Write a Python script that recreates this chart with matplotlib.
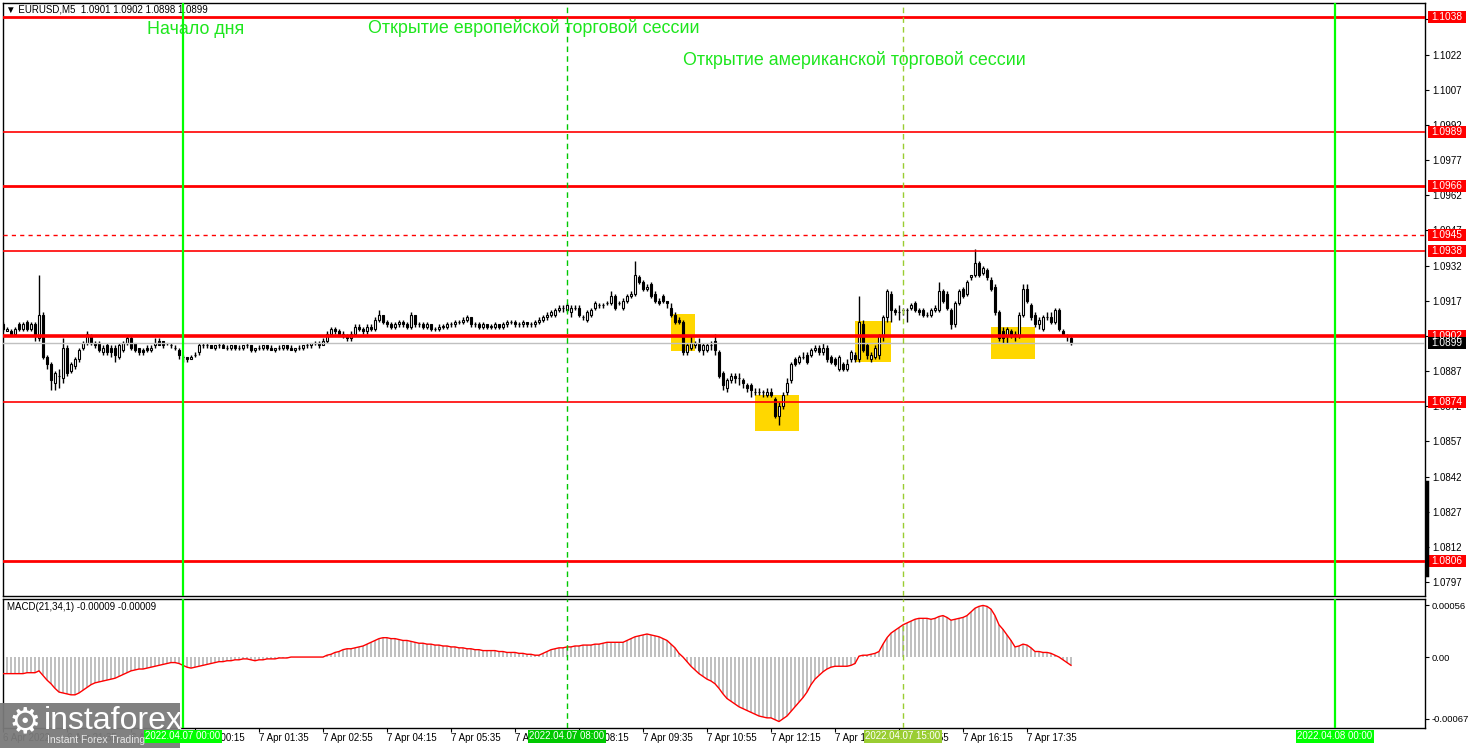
import numpy as np
import pandas as pd
import matplotlib
matplotlib.use("Agg")
import matplotlib.pyplot as plt
import matplotlib.transforms as mtrans
from matplotlib.patches import Rectangle
from matplotlib.lines import Line2D

plt.rcParams['font.family'] = ['Liberation Sans', 'DejaVu Sans']

# EURUSD M5, first bar 6 Apr 20:15, one value per bar
start_time = "2022-04-06 20:15"
day_start = "2022-04-07 00:00"

opens = [
    1.0907, 1.0904, 1.0904, 1.0903, 1.0907, 1.0905, 1.0908, 1.0905, 1.0907, 1.0901,
    1.0911, 1.0893, 1.0890, 1.0882, 1.0885, 1.0884, 1.0897, 1.0887, 1.0889, 1.0892,
    1.0897, 1.0899, 1.0902, 1.0899, 1.0899, 1.0895, 1.0898, 1.0897, 1.0897, 1.0893,
    1.0896, 1.0899, 1.0901, 1.0899, 1.0897, 1.0896, 1.0897, 1.0896, 1.0898, 1.0900,
    1.0900, 1.0899, 1.0898, 1.0897, 1.0896, 1.0893, 1.0893, 1.0892, 1.0894, 1.0895,
    1.0898, 1.0898, 1.0898, 1.0897, 1.0898, 1.0898, 1.0897, 1.0897, 1.0898, 1.0897,
    1.0897, 1.0898, 1.0898, 1.0896, 1.0897, 1.0897, 1.0898, 1.0897, 1.0896, 1.0897,
    1.0897, 1.0898, 1.0897, 1.0896, 1.0897, 1.0897, 1.0898, 1.0898, 1.0899, 1.0899,
    1.0898, 1.0900, 1.0903, 1.0905, 1.0904, 1.0903, 1.0902, 1.0901, 1.0903, 1.0906,
    1.0905, 1.0904, 1.0906, 1.0905, 1.0909, 1.0911, 1.0908, 1.0907, 1.0906, 1.0907,
    1.0908, 1.0907, 1.0906, 1.0911, 1.0907, 1.0907, 1.0906, 1.0907, 1.0905, 1.0905,
    1.0906, 1.0906, 1.0907, 1.0907, 1.0908, 1.0908, 1.0909, 1.0910, 1.0907, 1.0907,
    1.0906, 1.0907, 1.0906, 1.0906, 1.0907, 1.0906, 1.0907, 1.0908, 1.0908, 1.0907,
    1.0907, 1.0908, 1.0907, 1.0907, 1.0908, 1.0909, 1.0910, 1.0911, 1.0911, 1.0913,
    1.0914, 1.0913, 1.0912, 1.0914, 1.0914, 1.0910, 1.0909, 1.0911, 1.0914, 1.0915,
    1.0915, 1.0916, 1.0916, 1.0919, 1.0916, 1.0914, 1.0917, 1.0919, 1.0920, 1.0927,
    1.0925, 1.0922, 1.0924, 1.0920, 1.0917, 1.0919, 1.0917, 1.0914, 1.0911, 1.0909,
    1.0908, 1.0895, 1.0897, 1.0898, 1.0899, 1.0896, 1.0896, 1.0898, 1.0900, 1.0895,
    1.0886, 1.0880, 1.0883, 1.0885, 1.0884, 1.0883, 1.0881, 1.0881, 1.0878, 1.0878,
    1.0878, 1.0877, 1.0878, 1.0875, 1.0868, 1.0872, 1.0878, 1.0883, 1.0892, 1.0891,
    1.0893, 1.0894, 1.0894, 1.0896, 1.0897, 1.0895, 1.0897, 1.0893, 1.0892, 1.0888,
    1.0890, 1.0888, 1.0892, 1.0894, 1.0892, 1.0907, 1.0898, 1.0892, 1.0893, 1.0894,
    1.0902, 1.0910, 1.0920, 1.0913, 1.0912, 1.0913, 1.0913, 1.0914, 1.0916, 1.0913,
    1.0913, 1.0911, 1.0911, 1.0913, 1.0913, 1.0921, 1.0920, 1.0913, 1.0907, 1.0916,
    1.0922, 1.0920, 1.0927, 1.0928, 1.0933, 1.0929, 1.0930, 1.0926, 1.0923, 1.0912,
    1.0904, 1.0902, 1.0904, 1.0903, 1.0902, 1.0911, 1.0922, 1.0915, 1.0911, 1.0907,
    1.0905, 1.0910, 1.0910, 1.0908, 1.0913, 1.0904, 1.0902, 1.0901,
]
highs = [
    1.0908, 1.0906, 1.0905, 1.0906, 1.0908, 1.0908, 1.0909, 1.0908, 1.0908, 1.0928,
    1.0912, 1.0894, 1.0891, 1.0887, 1.0888, 1.0901, 1.0898, 1.0891, 1.0893, 1.0897,
    1.0900, 1.0904, 1.0903, 1.0900, 1.0900, 1.0898, 1.0899, 1.0898, 1.0898, 1.0899,
    1.0900, 1.0902, 1.0902, 1.0899, 1.0897, 1.0897, 1.0898, 1.0898, 1.0901, 1.0901,
    1.0900, 1.0899, 1.0899, 1.0898, 1.0897, 1.0894, 1.0893, 1.0894, 1.0895, 1.0899,
    1.0899, 1.0899, 1.0898, 1.0898, 1.0899, 1.0899, 1.0898, 1.0898, 1.0898, 1.0898,
    1.0898, 1.0899, 1.0898, 1.0897, 1.0898, 1.0898, 1.0898, 1.0898, 1.0897, 1.0898,
    1.0898, 1.0898, 1.0898, 1.0897, 1.0898, 1.0898, 1.0899, 1.0899, 1.0900, 1.0900,
    1.0901, 1.0904, 1.0906, 1.0906, 1.0905, 1.0904, 1.0903, 1.0904, 1.0907, 1.0907,
    1.0906, 1.0907, 1.0907, 1.0910, 1.0913, 1.0911, 1.0909, 1.0908, 1.0908, 1.0909,
    1.0909, 1.0908, 1.0912, 1.0911, 1.0908, 1.0908, 1.0908, 1.0907, 1.0906, 1.0907,
    1.0907, 1.0908, 1.0908, 1.0909, 1.0909, 1.0910, 1.0911, 1.0910, 1.0908, 1.0908,
    1.0908, 1.0907, 1.0907, 1.0908, 1.0907, 1.0908, 1.0909, 1.0909, 1.0909, 1.0908,
    1.0909, 1.0908, 1.0908, 1.0909, 1.0910, 1.0911, 1.0912, 1.0913, 1.0914, 1.0915,
    1.0915, 1.0916, 1.0915, 1.0915, 1.0915, 1.0911, 1.0913, 1.0914, 1.0917, 1.0916,
    1.0916, 1.0917, 1.0921, 1.0920, 1.0917, 1.0918, 1.0920, 1.0921, 1.0934, 1.0928,
    1.0926, 1.0924, 1.0925, 1.0921, 1.0918, 1.0920, 1.0917, 1.0916, 1.0912, 1.0910,
    1.0909, 1.0899, 1.0902, 1.0900, 1.0901, 1.0899, 1.0899, 1.0900, 1.0903, 1.0896,
    1.0887, 1.0884, 1.0886, 1.0886, 1.0886, 1.0884, 1.0882, 1.0882, 1.0880, 1.0880,
    1.0879, 1.0880, 1.0880, 1.0876, 1.0874, 1.0878, 1.0884, 1.0891, 1.0893, 1.0894,
    1.0895, 1.0895, 1.0897, 1.0898, 1.0898, 1.0899, 1.0898, 1.0894, 1.0893, 1.0894,
    1.0891, 1.0892, 1.0896, 1.0895, 1.0919, 1.0909, 1.0899, 1.0895, 1.0898, 1.0903,
    1.0911, 1.0922, 1.0921, 1.0914, 1.0915, 1.0914, 1.0914, 1.0916, 1.0917, 1.0914,
    1.0914, 1.0912, 1.0914, 1.0915, 1.0925, 1.0922, 1.0921, 1.0914, 1.0917, 1.0922,
    1.0923, 1.0926, 1.0928, 1.0939, 1.0934, 1.0932, 1.0931, 1.0927, 1.0924, 1.0913,
    1.0906, 1.0906, 1.0905, 1.0904, 1.0912, 1.0924, 1.0924, 1.0916, 1.0912, 1.0910,
    1.0911, 1.0912, 1.0912, 1.0914, 1.0914, 1.0905, 1.0903, 1.0902,
]
lows = [
    1.0904, 1.0904, 1.0902, 1.0903, 1.0904, 1.0904, 1.0904, 1.0904, 1.0900, 1.0900,
    1.0892, 1.0888, 1.0879, 1.0879, 1.0880, 1.0882, 1.0885, 1.0886, 1.0888, 1.0891,
    1.0896, 1.0898, 1.0898, 1.0897, 1.0895, 1.0894, 1.0894, 1.0893, 1.0891, 1.0892,
    1.0895, 1.0898, 1.0896, 1.0895, 1.0894, 1.0894, 1.0895, 1.0895, 1.0897, 1.0898,
    1.0897, 1.0898, 1.0897, 1.0896, 1.0892, 1.0891, 1.0891, 1.0892, 1.0893, 1.0894,
    1.0897, 1.0897, 1.0897, 1.0896, 1.0897, 1.0897, 1.0896, 1.0896, 1.0896, 1.0896,
    1.0896, 1.0897, 1.0895, 1.0895, 1.0896, 1.0896, 1.0896, 1.0896, 1.0895, 1.0896,
    1.0896, 1.0896, 1.0896, 1.0895, 1.0896, 1.0896, 1.0897, 1.0897, 1.0898, 1.0897,
    1.0898, 1.0899, 1.0902, 1.0903, 1.0902, 1.0901, 1.0900, 1.0900, 1.0902, 1.0904,
    1.0903, 1.0903, 1.0904, 1.0904, 1.0908, 1.0907, 1.0906, 1.0905, 1.0905, 1.0906,
    1.0906, 1.0905, 1.0905, 1.0906, 1.0906, 1.0905, 1.0905, 1.0904, 1.0904, 1.0904,
    1.0905, 1.0905, 1.0906, 1.0906, 1.0907, 1.0907, 1.0908, 1.0906, 1.0906, 1.0905,
    1.0905, 1.0905, 1.0905, 1.0905, 1.0905, 1.0905, 1.0906, 1.0907, 1.0906, 1.0906,
    1.0906, 1.0906, 1.0906, 1.0906, 1.0907, 1.0908, 1.0909, 1.0910, 1.0910, 1.0912,
    1.0912, 1.0912, 1.0910, 1.0913, 1.0910, 1.0909, 1.0908, 1.0910, 1.0913, 1.0914,
    1.0914, 1.0915, 1.0915, 1.0913, 1.0915, 1.0913, 1.0916, 1.0918, 1.0919, 1.0924,
    1.0921, 1.0921, 1.0918, 1.0916, 1.0915, 1.0916, 1.0914, 1.0910, 1.0907, 1.0907,
    1.0894, 1.0894, 1.0896, 1.0897, 1.0895, 1.0894, 1.0895, 1.0896, 1.0894, 1.0884,
    1.0879, 1.0878, 1.0882, 1.0882, 1.0881, 1.0880, 1.0878, 1.0876, 1.0877, 1.0877,
    1.0876, 1.0876, 1.0876, 1.0867, 1.0864, 1.0871, 1.0877, 1.0882, 1.0889, 1.0890,
    1.0892, 1.0890, 1.0893, 1.0895, 1.0894, 1.0894, 1.0891, 1.0890, 1.0889, 1.0887,
    1.0887, 1.0887, 1.0891, 1.0891, 1.0891, 1.0895, 1.0892, 1.0891, 1.0892, 1.0892,
    1.0900, 1.0908, 1.0908, 1.0911, 1.0909, 1.0911, 1.0908, 1.0913, 1.0912, 1.0911,
    1.0910, 1.0910, 1.0910, 1.0912, 1.0912, 1.0916, 1.0913, 1.0905, 1.0906, 1.0915,
    1.0918, 1.0919, 1.0926, 1.0927, 1.0927, 1.0928, 1.0926, 1.0921, 1.0911, 1.0900,
    1.0899, 1.0899, 1.0901, 1.0900, 1.0901, 1.0910, 1.0916, 1.0909, 1.0906, 1.0905,
    1.0904, 1.0909, 1.0907, 1.0907, 1.0904, 1.0902, 1.0900, 1.0898,
]
closes = [
    1.0905, 1.0905, 1.0903, 1.0905, 1.0905, 1.0907, 1.0905, 1.0907, 1.0902, 1.0911,
    1.0893, 1.0890, 1.0883, 1.0886, 1.0885, 1.0897, 1.0886, 1.0890, 1.0892, 1.0896,
    1.0899, 1.0903, 1.0899, 1.0898, 1.0896, 1.0897, 1.0895, 1.0895, 1.0894, 1.0898,
    1.0899, 1.0901, 1.0897, 1.0896, 1.0895, 1.0895, 1.0896, 1.0897, 1.0899, 1.0898,
    1.0898, 1.0899, 1.0898, 1.0897, 1.0894, 1.0893, 1.0892, 1.0893, 1.0894, 1.0898,
    1.0898, 1.0898, 1.0897, 1.0898, 1.0898, 1.0897, 1.0897, 1.0898, 1.0897, 1.0897,
    1.0898, 1.0898, 1.0896, 1.0897, 1.0897, 1.0898, 1.0897, 1.0896, 1.0897, 1.0897,
    1.0898, 1.0897, 1.0896, 1.0897, 1.0897, 1.0898, 1.0898, 1.0899, 1.0899, 1.0898,
    1.0900, 1.0903, 1.0905, 1.0904, 1.0903, 1.0902, 1.0901, 1.0903, 1.0906, 1.0905,
    1.0904, 1.0906, 1.0905, 1.0909, 1.0911, 1.0908, 1.0907, 1.0906, 1.0907, 1.0908,
    1.0907, 1.0906, 1.0911, 1.0907, 1.0907, 1.0906, 1.0907, 1.0905, 1.0905, 1.0906,
    1.0906, 1.0907, 1.0907, 1.0908, 1.0908, 1.0909, 1.0910, 1.0907, 1.0907, 1.0906,
    1.0907, 1.0906, 1.0906, 1.0907, 1.0906, 1.0907, 1.0908, 1.0908, 1.0907, 1.0907,
    1.0908, 1.0907, 1.0907, 1.0908, 1.0909, 1.0910, 1.0911, 1.0912, 1.0913, 1.0914,
    1.0914, 1.0915, 1.0914, 1.0914, 1.0911, 1.0910, 1.0912, 1.0913, 1.0916, 1.0915,
    1.0915, 1.0916, 1.0919, 1.0914, 1.0916, 1.0917, 1.0919, 1.0920, 1.0928, 1.0925,
    1.0922, 1.0923, 1.0919, 1.0917, 1.0916, 1.0917, 1.0916, 1.0911, 1.0908, 1.0908,
    1.0895, 1.0898, 1.0899, 1.0899, 1.0896, 1.0898, 1.0898, 1.0898, 1.0896, 1.0885,
    1.0881, 1.0883, 1.0885, 1.0884, 1.0884, 1.0882, 1.0880, 1.0879, 1.0878, 1.0878,
    1.0878, 1.0878, 1.0877, 1.0868, 1.0872, 1.0877, 1.0882, 1.0890, 1.0890, 1.0893,
    1.0893, 1.0891, 1.0896, 1.0897, 1.0895, 1.0897, 1.0892, 1.0891, 1.0890, 1.0893,
    1.0888, 1.0890, 1.0895, 1.0892, 1.0908, 1.0896, 1.0894, 1.0894, 1.0897, 1.0902,
    1.0910, 1.0921, 1.0913, 1.0912, 1.0912, 1.0913, 1.0913, 1.0915, 1.0913, 1.0912,
    1.0911, 1.0911, 1.0913, 1.0914, 1.0921, 1.0917, 1.0914, 1.0907, 1.0916, 1.0921,
    1.0919, 1.0925, 1.0928, 1.0933, 1.0928, 1.0931, 1.0927, 1.0922, 1.0912, 1.0901,
    1.0901, 1.0905, 1.0902, 1.0902, 1.0911, 1.0922, 1.0917, 1.0910, 1.0907, 1.0909,
    1.0910, 1.0910, 1.0908, 1.0913, 1.0905, 1.0903, 1.0902, 1.0899,
]
# MACD(21,34,1) per bar, in units of 0.00001
macd_pts = [
    -18, -18, -18, -18, -18, -18, -17, -17, -17, -15,
    -20, -25, -29, -34, -38, -39, -40, -41, -41, -39,
    -36, -33, -30, -28, -27, -26, -25, -24, -23, -21,
    -19, -17, -15, -14, -13, -13, -12, -11, -10, -9,
    -8, -7, -6, -6, -7, -9, -11, -12, -11, -10,
    -9, -8, -7, -6, -5, -5, -4, -4, -3, -3,
    -2, -2, -3, -4, -3, -3, -2, -2, -2, -1,
    -1, -1, 0, 0, 0, 0, 0, 0, 0, 0,
    0, 2, 3, 5, 6, 8, 9, 9, 10, 11,
    12, 14, 16, 18, 20, 21, 21, 20, 20, 19,
    18, 18, 17, 16, 15, 15, 14, 14, 13, 13,
    12, 12, 11, 11, 10, 10, 9, 9, 8, 8,
    7, 7, 7, 7, 6, 6, 5, 5, 5, 4,
    4, 3, 3, 2, 2, 4, 6, 8, 9, 10,
    10, 11, 11, 12, 12, 13, 13, 13, 14, 14,
    15, 16, 16, 16, 16, 16, 18, 20, 22, 23,
    24, 25, 24, 23, 22, 20, 18, 14, 10, 4,
    0, -5, -10, -14, -18, -21, -24, -26, -29, -34,
    -40, -45, -48, -51, -54, -56, -58, -60, -62, -64,
    -65, -66, -66, -68, -70, -67, -64, -59, -54, -49,
    -44, -38, -30, -24, -20, -16, -13, -11, -10, -10,
    -10, -10, -9, -7, 1, 2, 2, 3, 4, 6,
    14, 21, 26, 29, 32, 35, 37, 39, 41, 42,
    42, 42, 41, 42, 44, 45, 43, 40, 41, 42,
    43, 45, 49, 53, 55, 56, 55, 52, 45, 35,
    30, 24, 18, 11, 12, 14, 13, 10, 6, 6,
    5, 5, 4, 2, 0, -3, -6, -9,
]

# horizontal levels (red), bid line
levels = [1.1038, 1.0989, 1.0966, 1.0945, 1.0938, 1.0902, 1.0874, 1.0806]
level_widths = [2.0, 1.2, 2.0, 1.0, 1.2, 2.6, 1.2, 2.0]
level_styles = ['-', '-', '-', (0, (3, 3)), '-', '-', '-', '-']

# price ticks on the right scale
price_ticks = [1.0797, 1.0812, 1.0827, 1.0842, 1.0857, 1.0872, 1.0887, 1.0902,
               1.0917, 1.0932, 1.0947, 1.0962, 1.0977, 1.0992, 1.1007, 1.1022, 1.1037]
macd_ticks = [0.00056, 0.0, -0.00067]
macd_tick_labels = ['0.00056', '0.00', '-0.00067']

time_ticks = ["2022-04-06 20:15", "2022-04-06 21:35", "2022-04-06 22:55",
              "2022-04-07 00:15", "2022-04-07 01:35", "2022-04-07 02:55",
              "2022-04-07 04:15", "2022-04-07 05:35", "2022-04-07 06:55",
              "2022-04-07 08:15", "2022-04-07 09:35", "2022-04-07 10:55",
              "2022-04-07 12:15", "2022-04-07 13:35", "2022-04-07 14:55",
              "2022-04-07 16:15", "2022-04-07 17:35"]
time_labels = ["6 Apr 2022", "6 Apr 21:35", "6 Apr 22:55", "7 Apr 00:15",
               "7 Apr 01:35", "7 Apr 02:55", "7 Apr 04:15", "7 Apr 05:35",
               "7 Apr 06:55", "7 Apr 08:15", "7 Apr 09:35", "7 Apr 10:55",
               "7 Apr 12:15", "7 Apr 13:35", "7 Apr 14:55", "7 Apr 16:15",
               "7 Apr 17:35"]

# vertical session lines
vlines_t = ["2022-04-07 00:00", "2022-04-07 08:00", "2022-04-07 15:00", "2022-04-08 00:00"]
vlines_lab = ["2022.04.07 00:00", "2022.04.07 08:00", "2022.04.07 15:00", "2022.04.08 00:00"]
vlines_col = ['#00FF00', '#00C800', '#9ACD32', '#00FF00']
vlines_ls = ['-', (0, (4, 3)), (0, (4, 3)), '-']
vlines_lw = [1.6, 1.0, 1.0, 1.6]

# yellow zones
zone_start = ["2022-04-07 10:10", "2022-04-07 11:55", "2022-04-07 14:00", "2022-04-07 16:50"]
zone_end = ["2022-04-07 10:40", "2022-04-07 12:50", "2022-04-07 14:45", "2022-04-07 17:45"]
zone_low = [1.08956, 1.08615, 1.08909, 1.08922]
zone_high = [1.09113, 1.08768, 1.09084, 1.09058]

notes = ["Начало дня", "Открытие европейской торговой сессии",
         "Открытие американской торговой сессии"]

day0 = pd.Timestamp(day_start)
step = pd.Timedelta("5min")


def to_x(t):
    return (pd.Timestamp(t) - day0) / step


n = len(closes)
times = pd.date_range(start_time, periods=n, freq="5min")
xs = ((times - day0) / step).to_numpy()
o = np.array(opens)
h = np.array(highs)
l = np.array(lows)
c = np.array(closes)
macd = np.array(macd_pts[:n]) * 1e-5

W, H = 1468, 748
fig = plt.figure(figsize=(W / 100, H / 100), dpi=100)
fig.patch.set_facecolor('white')
ax = fig.add_axes([3 / W, 1 - 596 / H, 1422 / W, 593 / H])
ax2 = fig.add_axes([3 / W, 1 - 728 / H, 1422 / W, 129 / H])

xlim = (-45.0, 310.5)
ax.set_xlim(*xlim)
ax2.set_xlim(*xlim)
ax.set_ylim(1.079109, 1.104397)
ax2.set_ylim(-0.00077, 0.00063)

for a in (ax, ax2):
    for s in a.spines.values():
        s.set_linewidth(1.0)
        s.set_color('black')

# candles
up = c >= o
ax.vlines(xs, l, h, color='black', lw=1.0, zorder=3)
body = np.maximum(np.abs(c - o), 0.000004)
ax.bar(xs, body, bottom=np.minimum(o, c), width=0.72,
       color=np.where(up, 'white', 'black'), edgecolor='black', linewidth=0.8, zorder=4)

# zones
for s, e, lo, hi in zip(zone_start, zone_end, zone_low, zone_high):
    ax.add_patch(Rectangle((to_x(s), lo), to_x(e) - to_x(s), hi - lo,
                           facecolor='#FFD700', edgecolor='none', zorder=2))

# level lines
for lv, lw, ls in zip(levels, level_widths, level_styles):
    ax.axhline(lv, color='#FF0000', lw=lw, ls=ls, zorder=5)
ax.axhline(c[-1], color='#C0C0C0', lw=1.0, zorder=4.5)

# vertical lines
for t, col, ls, lw in zip(vlines_t, vlines_col, vlines_ls, vlines_lw):
    for a in (ax, ax2):
        a.axvline(to_x(t), color=col, ls=ls, lw=lw, zorder=6)

# right price scale
ax.yaxis.tick_right()
ax.set_yticks(price_ticks)
ax.set_yticklabels([f"{p:.4f}" for p in price_ticks])
ax.tick_params(axis='y', direction='out', length=3, width=0.8, pad=2, labelsize=7)
ax.set_xticks([])

# red/black price tags
bt = mtrans.blended_transform_factory(ax.transAxes, ax.transData)
tag_h = 12 / 23450
tag_x0 = 1 + 3 / 1422
tag_w = 38 / 1422
tags = [(lv, '#FF0000') for lv in levels] + [(c[-1], 'black')]
for lv, col in tags:
    ax.add_patch(Rectangle((tag_x0, lv - tag_h / 2), tag_w, tag_h, transform=bt,
                           facecolor=col, edgecolor='none', clip_on=False, zorder=7))
    ax.text(tag_x0 + tag_w / 2, lv, f"{lv:.4f}", transform=bt, ha='center', va='center',
            color='white', fontsize=7.3, zorder=8, clip_on=False)

# black bar on the price scale
fig.add_artist(Line2D([1427 / W, 1427 / W], [1 - 482 / H, 1 - 575 / H],
                      color='black', lw=2.5, transform=fig.transFigure))

# MACD panel
ax2.bar(xs, macd, width=0.5, color='#C0C0C0', zorder=2)
ax2.plot(xs, macd, color='#FF0000', lw=1.0, zorder=3)
ax2.yaxis.tick_right()
ax2.set_yticks(macd_ticks)
ax2.set_yticklabels(macd_tick_labels)
ax2.tick_params(axis='y', direction='out', length=3, width=0.8, pad=2, labelsize=6.8)
ax2.set_xticks([to_x(t) for t in time_ticks])
ax2.set_xticklabels(time_labels)
for lab in ax2.get_xticklabels():
    lab.set_ha('left')
ax2.tick_params(axis='x', direction='out', length=3, width=0.8, pad=0.5, labelsize=7)

# logo backdrop (under the green time tags, over the time labels)
ax2.add_patch(Rectangle((0, 0), 180 / W, 45 / H, transform=fig.transFigure,
                        facecolor='#7a7a7a', edgecolor='none', alpha=0.95,
                        clip_on=False, zorder=8))

bt2 = mtrans.blended_transform_factory(ax2.transData, ax2.transAxes)
for t, lab, col in zip(vlines_t, vlines_lab, vlines_col):
    ax2.text(to_x(t), -0.065, lab, transform=bt2, ha='center', va='center', color='white',
             fontsize=7, zorder=9, clip_on=False,
             bbox=dict(boxstyle='square,pad=0.15', facecolor=col, edgecolor='none'))

ax2.text(4 / 1422, 1 - 8 / 129, f"MACD(21,34,1) {macd[-1]:.5f} {macd[-1]:.5f}",
         transform=ax2.transAxes, ha='left', va='center', fontsize=7, color='black')

# header
ax.text(3 / 1422, 1 - 7 / 593,
        f"\u25BC EURUSD,M5  {o[-1]:.4f} {h[-1]:.4f} {l[-1]:.4f} {c[-1]:.4f}",
        transform=ax.transAxes, ha='left', va='center', fontsize=7, color='black', zorder=5)

# session notes
note_pos = [(144 / 1422, 1 - 27 / 593), (365 / 1422, 1 - 25 / 593), (680 / 1422, 1 - 57 / 593)]
for txt, (nx, ny) in zip(notes, note_pos):
    ax.text(nx, ny, txt, transform=ax.transAxes, ha='left', va='center',
            fontsize=12.9, color='#1EE61E', zorder=7)

# logo text
fig.text(25 / W, 1 - 722 / H, "\u2699", fontsize=26, color='white', ha='center',
         va='center', family='DejaVu Sans', zorder=21)
fig.text(44 / W, 1 - 721 / H, "instaforex", fontsize=23, color='white', ha='left',
         va='center', zorder=21)
fig.text(47 / W, 1 - 740 / H, "Instant Forex Trading", fontsize=7.5, color='#e8e8e8',
         ha='left', va='center', zorder=21)

fig.savefig("out.png", dpi=100)
